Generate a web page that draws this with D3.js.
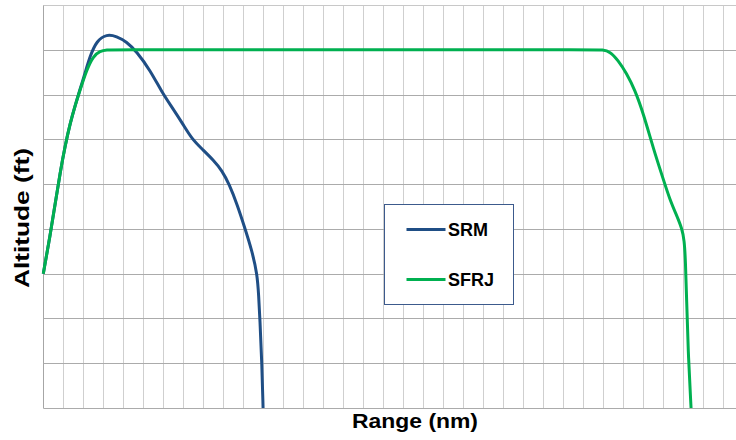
<!DOCTYPE html>
<html>
<head>
<meta charset="utf-8">
<script src="https://cdn.jsdelivr.net/npm/d3@7"></script>
<style>
  body { margin: 0; background: #fff; }
  svg { display: block; font-family: "Liberation Sans", Arial, sans-serif; }
</style>
</head>
<body>
<svg id="chart" width="736" height="440"></svg>
<script>
// values in grid units (one unit = one gridline)
const srmRange = [0, 0.34, 0.59, 0.84, 1.09, 1.34, 1.59, 1.84, 2.09, 2.34, 2.67, 3.17, 3.67, 4.17, 4.67, 5.34, 6.0, 6.5, 7.0, 7.45, 8.0, 8.5, 8.95, 9.3, 9.7, 10.1, 10.43, 10.71, 10.78, 10.84, 10.94, 11.0];
const srmAlt = [3, 3.85, 4.55, 5.25, 5.85, 6.35, 6.75, 7.12, 7.48, 7.86, 8.2, 8.35, 8.3, 8.18, 7.96, 7.55, 7.0, 6.68, 6.33, 6.0, 5.76, 5.54, 5.3, 5.0, 4.55, 4.0, 3.53, 2.99, 2.5, 2.0, 1.0, 0];

const sfrjRange = [0, 0.34, 0.59, 0.84, 1.09, 1.34, 1.59, 1.84, 2.17, 2.5, 2.84, 3.17, 3.6, 10, 20, 27.5, 28.01, 28.36, 28.76, 29.2, 29.61, 30.03, 30.53, 31.0, 31.37, 31.7, 31.97, 32.08, 32.14, 32.2, 32.27, 32.42];
const sfrjAlt = [3, 3.85, 4.55, 5.25, 5.85, 6.35, 6.75, 7.1, 7.55, 7.86, 7.97, 8.0, 8.0, 8.0, 8.0, 8.0, 8.0, 7.96, 7.77, 7.47, 7.1, 6.58, 5.8, 5.15, 4.64, 4.3, 4.0, 3.75, 3.3, 2.41, 1.3, 0];

const xTicks = d3.range(0, 36);
const yTicks = d3.range(0, 10);

const seriesNames = ["SRM", "SFRJ"];
const seriesColors = ["#1f4e85", "#00b050"];

const svg = d3.select("#chart");

const x = d3.scaleLinear().domain([0, 35]).range([43.3, 742.6]);
const y = d3.scaleLinear().domain([0, 9]).range([408, 5]);

const crisp = (v) => Math.round(v) + 0.5;

// vertical grid
svg.append("g")
  .selectAll("line")
  .data(xTicks)
  .join("line")
  .attr("x1", (d) => crisp(x(d)))
  .attr("x2", (d) => crisp(x(d)))
  .attr("y1", y(9))
  .attr("y2", y(0))
  .attr("stroke", (d) => (d === 0 ? "#a6a6a6" : "#cfcfcf"))
  .attr("stroke-width", 1);

// horizontal grid
svg.append("g")
  .selectAll("line")
  .data(yTicks)
  .join("line")
  .attr("x1", x(0))
  .attr("x2", 736)
  .attr("y1", (d) => crisp(y(d)))
  .attr("y2", (d) => crisp(y(d)))
  .attr("stroke", (d) => (d === 9 ? "#c8c8c8" : "#ababab"))
  .attr("stroke-width", 1);

const line = d3.line()
  .x((d) => x(d[0]))
  .y((d) => y(d[1]))
  .curve(d3.curveBasis);

const series = [
  d3.zip(srmRange, srmAlt),
  d3.zip(sfrjRange, sfrjAlt),
];

// SRM first, SFRJ on top (green covers blue on the shared climb)
[0, 1].forEach((i) => {
  svg.append("path")
    .datum(series[i])
    .attr("d", line)
    .attr("fill", "none")
    .attr("stroke", seriesColors[i])
    .attr("stroke-width", 3)
    .attr("stroke-linejoin", "round");
});

// legend
const legend = svg.append("g").attr("transform", "translate(384.5,204.5)");
legend.append("rect")
  .attr("width", 129)
  .attr("height", 100)
  .attr("fill", "#fff")
  .attr("stroke", "#3c5a8c")
  .attr("stroke-width", 1);

seriesNames.forEach((name, i) => {
  const ly = 25 + i * 50;
  legend.append("line")
    .attr("x1", 22)
    .attr("x2", 61)
    .attr("y1", ly)
    .attr("y2", ly)
    .attr("stroke", seriesColors[i])
    .attr("stroke-width", 3);
  legend.append("text")
    .attr("x", 63.5)
    .attr("y", ly + 6.5)
    .attr("font-size", 18)
    .attr("font-weight", "bold")
    .attr("fill", "#000")
    .text(name);
});

// axis titles
svg.append("text")
  .attr("x", 415)
  .attr("y", 428)
  .attr("text-anchor", "middle")
  .attr("font-size", 21)
  .attr("font-weight", "bold")
  .attr("textLength", 126)
  .attr("lengthAdjust", "spacingAndGlyphs")
  .text("Range (nm)");

svg.append("text")
  .attr("transform", "translate(28.5,218) rotate(-90)")
  .attr("text-anchor", "middle")
  .attr("font-size", 21)
  .attr("font-weight", "bold")
  .attr("textLength", 140)
  .attr("lengthAdjust", "spacingAndGlyphs")
  .text("Altitude (ft)");
</script>
</body>
</html>
